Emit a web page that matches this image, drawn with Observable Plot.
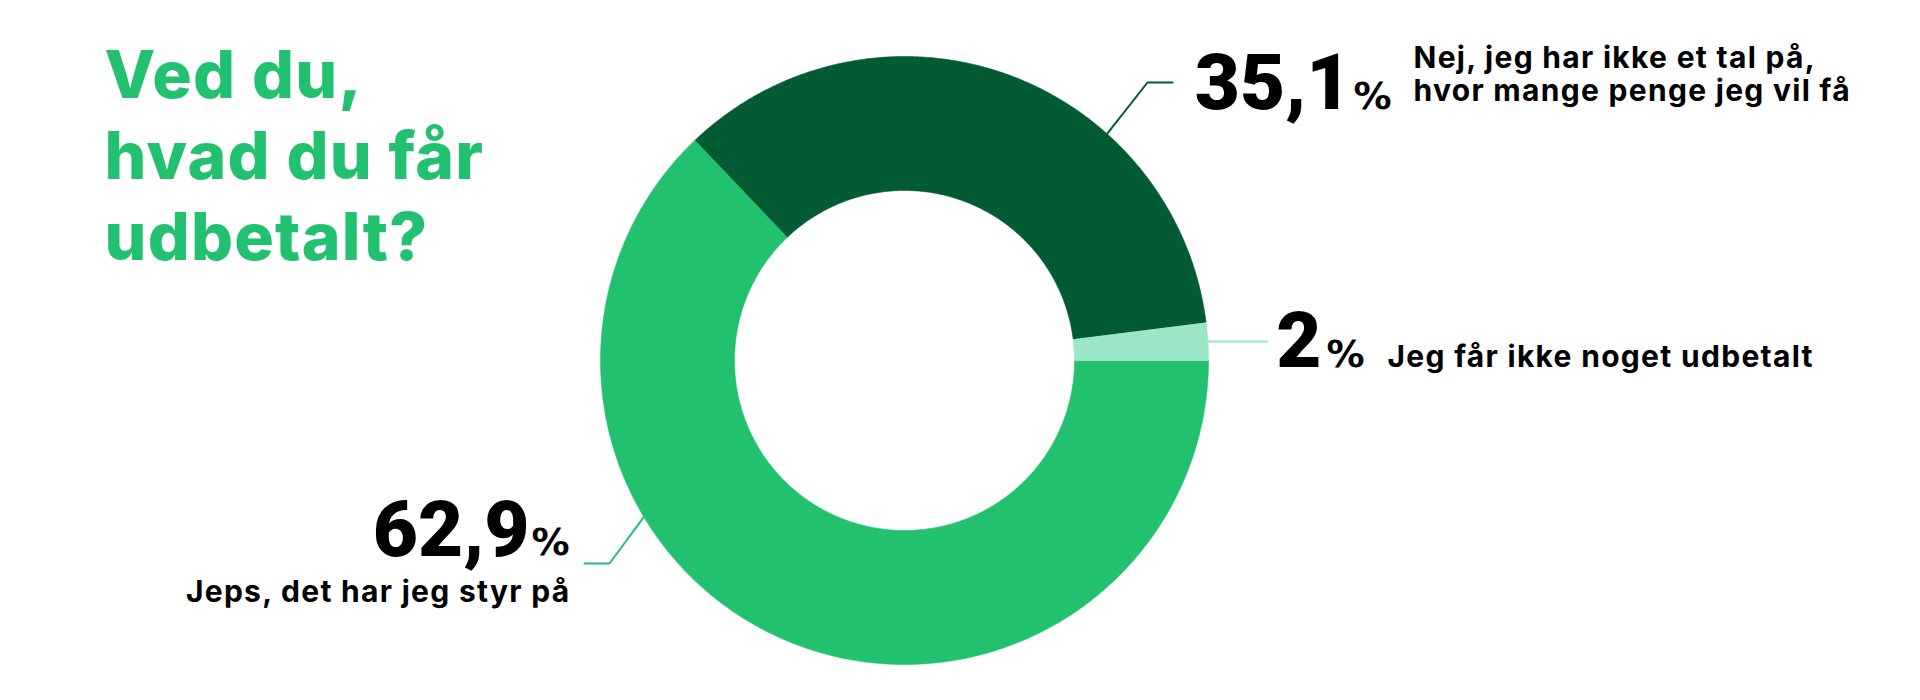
<!DOCTYPE html>
<html>
<head>
<meta charset="utf-8">
<script src="https://cdn.jsdelivr.net/npm/d3@7"></script>
<script src="https://cdn.jsdelivr.net/npm/@observablehq/plot@0.6"></script>
<style>
  body { margin: 0; background: #fff; }
  #chart { width: 1920px; height: 700px; }
</style>
</head>
<body>
<div id="chart"></div>
<script>
// ---- data ----
const categories = [
  "Jeps, det har jeg styr på",
  "Nej, jeg har ikke et tal på,\nhvor mange penge jeg vil få",
  "Jeg får ikke noget udbetalt"
];
const values = [62.9, 35.1, 2];
const valueLabels = ["62,9", "35,1", "2"];
const sliceColors = ["#21c16f", "#035b34", "#9be6c7"];
const titleLines = ["Ved du,", "hvad du får", "udbetalt?"];

// ---- layout ----
const W = 1920, H = 700;
const cx = 904, cy = 360, R = 304, r = 170;
const FONT = "Inter, 'Open Sans', sans-serif";
const NUMFONT = "Roboto, Inter, sans-serif";
const PCTFONT = "'DejaVu Sans', Inter, sans-serif";
const green = "#21c16f";

// pie geometry (clockwise, starting at 3 o'clock)
const pie = d3.pie().sort(null).value(d => d)
  .startAngle(Math.PI / 2).endAngle(Math.PI / 2 + 2 * Math.PI);
const arcs = pie(values);
const pt = (a, rad) => [cx + rad * Math.sin(a), cy - rad * Math.cos(a)];

const slicePts = [];
arcs.forEach((a, i) => {
  const n = Math.max(4, Math.ceil((a.endAngle - a.startAngle) / (Math.PI / 360)));
  for (let k = 0; k <= n; k++) {
    const t = a.startAngle + (a.endAngle - a.startAngle) * k / n;
    const [x, y] = pt(t, R);
    slicePts.push({key: i, x, y, color: sliceColors[i]});
  }
  for (let k = n; k >= 0; k--) {
    const t = a.startAngle + (a.endAngle - a.startAngle) * k / n;
    const [x, y] = pt(t, r);
    slicePts.push({key: i, x, y, color: sliceColors[i]});
  }
});

// leader lines: anchor angle on outer edge (deg, clockwise from north), then elbow + end
const leaderLayout = [
  {angle: 239.1, elbow: [609, 563], end: [584, 563]},
  {angle: 41.8, elbow: [1147, 82], end: [1172, 82]},
  {angle: null, elbow: null, end: [1267, null]}
];
const leaderPts = [];
leaderLayout.forEach((L, i) => {
  const ang = L.angle == null ? (arcs[i].startAngle + arcs[i].endAngle) / 2 : L.angle * Math.PI / 180;
  const [sx, sy] = pt(ang, R - 1);
  leaderPts.push({key: i, x: sx, y: sy, color: sliceColors[i]});
  if (L.elbow) leaderPts.push({key: i, x: L.elbow[0], y: L.elbow[1], color: sliceColors[i]});
  leaderPts.push({key: i, x: L.end[0], y: L.end[1] == null ? sy : L.end[1], color: sliceColors[i]});
});

// label layout
const numPos = [
  {x: 529, y: 555, anchor: "end"},
  {x: 1351, y: 108, anchor: "end"},
  {x: 1321, y: 366, anchor: "end"}
];
const pctPos = [
  {x: 531, y: 554, anchor: "start"},
  {x: 1353, y: 108, anchor: "start"},
  {x: 1326, y: 366, anchor: "start"}
];
const catPos = [
  {x: 570, y: 601, anchor: "end"},
  {x: 1413, y: 100, anchor: "start"},
  {x: 1387, y: 366, anchor: "start"}
];

const numData = values.map((v, i) => ({text: valueLabels[i], ...numPos[i]}));
const pctData = values.map((v, i) => ({text: "%", ...pctPos[i]}));
const catData = categories.map((c, i) => ({text: c, ...catPos[i]}));
const titleBaselines = [97, 178, 259];
const titleData = titleLines.map((t, i) => ({text: t, x: 104, y: titleBaselines[i]}));

const textMark = (data, opts) => Plot.text(data, {
  x: "x", y: "y", text: "text", lineAnchor: "bottom",
  fontFamily: FONT, ...opts
});

const chart = Plot.plot({
  width: W, height: H,
  margin: 0,
  x: {domain: [0, W], range: [0, W], axis: null},
  y: {domain: [0, H], range: [0, H], axis: null},
  color: {type: "identity"},
  style: {background: "#fff", fontFamily: FONT},
  marks: [
    Plot.line(leaderPts, {x: "x", y: "y", z: "key", stroke: "color", strokeWidth: 2, curve: "linear"}),
    Plot.line(slicePts, {x: "x", y: "y", z: "key", fill: "color", stroke: "color", strokeWidth: 0.6, curve: "linear"}),
    textMark(titleData, {ariaDescription: "title", textAnchor: "start", fill: green, fontSize: 66, fontWeight: 800}),
    ...numData.map(d => textMark([d], {ariaDescription: "number", textAnchor: d.anchor, fill: "#000", fontFamily: NUMFONT, fontSize: 78, fontWeight: 900})),
    ...pctData.map(d => textMark([d], {ariaDescription: "pct", textAnchor: d.anchor, fill: "#000", fontFamily: PCTFONT, fontSize: 38, fontWeight: 700})),
    ...catData.map(d => textMark([d], {ariaDescription: "category", textAnchor: d.anchor, fill: "#000", fontSize: 30, fontWeight: 700, lineHeight: 1.1}))
  ]
});
d3.select(chart).selectAll('g[aria-description="title"] text').attr("letter-spacing", 1.2);
d3.select(chart).selectAll('g[aria-description="category"] text').attr("letter-spacing", 1.3);
document.getElementById("chart").appendChild(chart);
</script>
</body>
</html>
